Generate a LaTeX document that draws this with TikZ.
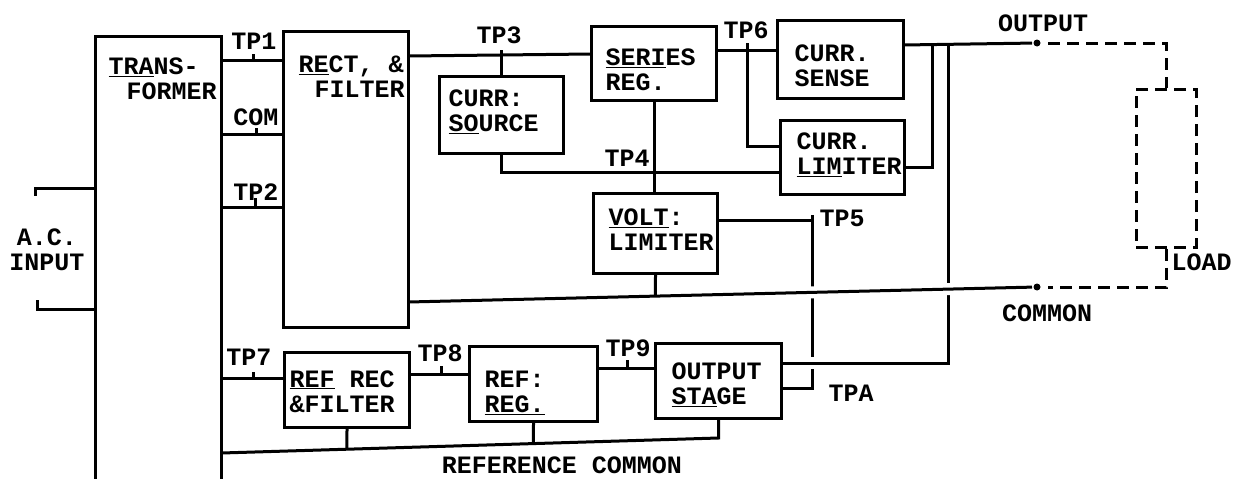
\documentclass[tikz,border=0pt]{standalone}
\usepackage{fontspec}
\newfontfamily\typew{Liberation Mono}
\usetikzlibrary{calc}
\begin{document}
\begin{tikzpicture}[x=1pt,y=-1pt, line width=3pt,
  box/.style={draw, line width=3.2pt, inner sep=0pt},
  lbl/.style={font=\typew\bfseries\fontsize{25}{25}\selectfont, inner sep=0pt, align=left, anchor=west},
  tp/.style={font=\typew\bfseries\fontsize{25}{25}\selectfont, inner sep=0pt},
  hop/.style={preaction={draw=white, line width=12pt}},
  term/.style={circle, fill, inner sep=0pt, minimum size=7pt},
  ldash/.style={line width=3pt, dash pattern=on 12pt off 7pt}
]
\useasboundingbox (0,0) rectangle (1234,479);

% ---------- boxes (positions only) ----------
\path
  (158.5,260.5) node[minimum width=123pt, minimum height=445pt] (tr) {}
  (346,179.5)   node[minimum width=122pt, minimum height=293pt] (rect) {}
  (501.5,115)   node[minimum width=121pt, minimum height=74pt]  (src) {}
  (654,63.5)    node[minimum width=122pt, minimum height=71pt]  (ser) {}
  (655.5,233.5) node[minimum width=121pt, minimum height=77pt]  (vlim) {}
  (840.5,59.5)  node[minimum width=123pt, minimum height=75pt]  (sense) {}
  (842.5,157.5) node[minimum width=121pt, minimum height=71pt]  (clim) {}
  (347,390)     node[minimum width=122pt, minimum height=72pt]  (refrec) {}
  (533.5,384)   node[minimum width=125pt, minimum height=72pt]  (refreg) {}
  (718.5,381)   node[minimum width=123pt, minimum height=72pt]  (ostage) {}
  (1166,168)    node[minimum width=60pt, minimum height=158pt]  (load) {};

\node[term] (outT) at (1037,43) {};
\node[term] (comT) at (1037,287) {};
\coordinate (ac1) at (35,196);
\coordinate (ac2) at (37,300);

% ---------- wires ----------
% A.C. input
\draw (tr.west |- 0,188) -- (ac1 |- 0,188) -- (ac1);
\draw (tr.west |- 0,309) -- (ac2 |- 0,309) -- (ac2);
% transformer -> rect & filter
\draw (tr.east |- 0,60) -- (rect.west |- 0,60);
\draw (253,60) -- (253,54);
\draw (tr.east |- 0,134) -- (rect.west |- 0,134);
\draw (256,134) -- (256,128);
\draw (tr.east |- 0,207) -- (rect.west |- 0,207);
\draw (255,207) -- (255,198);
% TP3
\draw (rect.east |- 0,56) -- (ser.west |- 0,54);
\draw (src.north) -- (src.north |- 0,50);
% TP4
\draw (src.south) |- (clim.west |- 0,172);
% series reg -> volt limiter
\draw (ser.south) -- (ser.south |- vlim.north);
% TP6
\draw (ser.east |- 0,50) -- (sense.west |- 0,50);
\draw (747,43) |- (clim.west |- 0,146);
% curr limiter -> output
\draw (clim.east |- 0,167) -| (932,45);
% TP5 -> TPA
\draw (vlim.east |- 0,220) -- (812,220) -- (812,388) -- (ostage.east |- 0,388);
\draw (812,220) -- (812,215);
% output sense
\draw[hop] (948,45) |- (ostage.east |- 0,363);
% main common
\draw[hop] (rect.east |- 0,302) -- (comT);
\draw (vlim.south) -- (intersection of vlim.south--vlim.north and rect.east|-0,302--comT);
% output line
\draw (sense.east |- 0,45) -- (outT);
% reference side
\draw (tr.east |- 0,378) -- (refrec.west |- 0,378);
\draw (253,378) -- (253,372);
\draw (refrec.east |- 0,374) -- (refreg.west |- 0,374);
\draw (441,374) -- (441,366);
\draw (refreg.east |- 0,368) -- (ostage.west |- 0,368);
\draw (627,368) -- (627,360);
\coordinate (rcR) at (ostage.south |- 0,438);
\draw (tr.east |- 0,453) -- (rcR) -- (ostage.south);
\draw (refrec.south) -- (intersection of refrec.south--refrec.north and tr.east|-0,453--rcR);
\draw (refreg.south) -- (intersection of refreg.south--refreg.north and tr.east|-0,453--rcR);
% load
\draw[ldash, shorten <=6pt] (outT) -| (load.north);
\draw[ldash, shorten >=6pt] (load.south) |- (comT);
\node[draw, ldash, minimum width=60pt, minimum height=158pt, inner sep=0pt] at (load) {};

% ---------- box outlines ----------
\foreach \n in {tr,rect,src,ser,vlim,sense,clim,refrec,refreg,ostage}
  \draw[line width=3.2pt] (\n.north west) rectangle (\n.south east);

% ---------- texts ----------
\node[lbl] (trT) at (107,79) {\underline{TRA}NS-\\\hspace*{18pt}FORMER};
\node[lbl] (rectT) at (297,77) {\underline{RE}CT, \&\\\hspace*{16pt}FILTER};
\node[lbl] (srcT) at (447,111.5) {CURR:\\\underline{SO}URCE};
\node[lbl] (serT) at (604,70) {\underline{SERI}ES\\REG.};
\node[lbl] (vlimT) at (607,230) {\underline{VOLT}:\\LIMITER};
\node[lbl] (senseT) at (793,66) {CURR.\\SENSE};
\node[lbl] (climT) at (795,155) {CURR.\\\underline{LIM}ITER};
\node[lbl] (refrecT) at (288,391.5) {\underline{REF} REC\\\&FILTER};
\node[lbl] (refregT) at (483,392.5) {REF:\\\underline{REG.}};
\node[lbl] (ostageT) at (670,384.5) {OUTPUT\\\underline{STA}GE};

\node[tp] (tp1) at (254,41) {TP1};
\node[tp] (com) at (256,117) {COM};
\node[tp] (tp2) at (256,192) {TP2};
\node[tp] (tp7) at (249,357) {TP7};
\node[tp] (tp3) at (499,35) {TP3};
\node[tp] (tp4) at (627,158) {TP4};
\node[tp] (tp6) at (746,30) {TP6};
\node[tp, anchor=west] (tp5) at (818,218) {TP5};
\node[tp] (tp8) at (440,353) {TP8};
\node[tp] (tp9) at (628,348) {TP9};
\node[tp] (tpa) at (851,393) {TPA};
\node[tp] (outL) at (1043,23) {OUTPUT};
\node[tp] (comL) at (1047,313) {COMMON};
\node[tp, anchor=east] (loadL) at (1233,262) {LOAD};
\node[tp, align=center] (acL) at (47,250) {A.C.\\INPUT};
\node[tp] (refcom) at (562,465) {REFERENCE COMMON};
\end{tikzpicture}
\end{document}
